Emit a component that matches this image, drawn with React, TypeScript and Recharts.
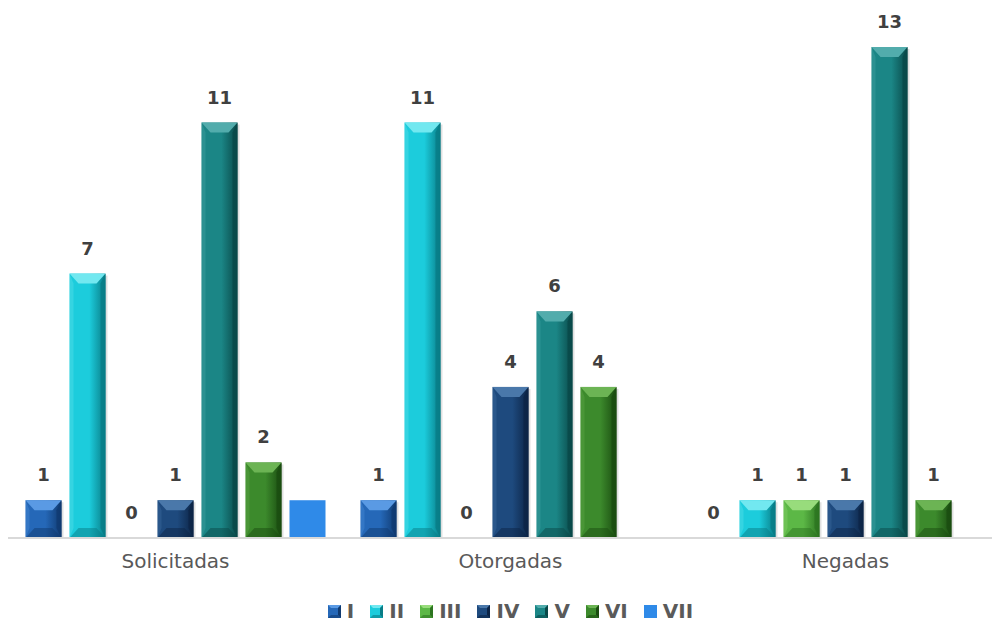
import React from "react";
import { BarChart, Bar, XAxis, YAxis, Legend, LabelList } from "recharts";

const categories = ["Solicitadas", "Otorgadas", "Negadas"];
const seriesNames = ["I", "II", "III", "IV", "V", "VI", "VII"];
const valuesI = [1, 1, 0];
const valuesII = [7, 11, 1];
const valuesIII = [0, 0, 1];
const valuesIV = [1, 4, 1];
const valuesV = [11, 6, 13];
const valuesVI = [2, 4, 1];
const valuesVII = [1, null, null];

const seriesValues = [valuesI, valuesII, valuesIII, valuesIV, valuesV, valuesVI, valuesVII];

// base / light / dark for the beveled look
const PALETTE = [
  { base: "#2568b8", light: "#5a9ae4", dark: "#103a70" },
  { base: "#1cccdc", light: "#72e8f0", dark: "#087c86" },
  { base: "#5cb846", light: "#98dc7c", dark: "#2c7420" },
  { base: "#1e4a7e", light: "#4a78aa", dark: "#0c2446" },
  { base: "#1b8686", light: "#52acac", dark: "#094848" },
  { base: "#3c8a2c", light: "#6cb454", dark: "#1a4c10" },
  { base: "#2f8ae8", light: "#2f8ae8", dark: "#2f8ae8" },
];

const data = categories.map((name, i) => {
  const row: Record<string, any> = { name };
  seriesNames.forEach((s, j) => {
    row[s] = seriesValues[j][i];
  });
  return row;
});

function makeShape(idx: number) {
  const c = PALETTE[idx];
  const flat = idx === 6;
  return (props: any) => {
    const { x, y, width, height } = props;
    if (!height || height <= 0) return null;
    if (flat) return <rect x={x} y={y} width={width} height={height} fill={c.base} />;
    const b = Math.min(10, height / 2);
    const s = Math.min(9, width / 4);
    return (
      <g>
        <rect x={x + 2} y={y + 2} width={width} height={height - 2} fill="#000" opacity={0.12} />
        <rect x={x} y={y} width={width} height={height} fill={`url(#face${idx})`} />
        <polygon
          points={`${x},${y + height} ${x + 4},${y + height - b} ${x + 4},${y + b} ${x},${y}`}
          fill={c.light}
          opacity={0.3}
        />
        <polygon
          points={`${x + width},${y} ${x + width - 5},${y + b} ${x + width - 5},${y + height - b} ${x + width},${y + height}`}
          fill={c.dark}
          opacity={0.8}
        />
        <polygon
          points={`${x},${y} ${x + width},${y} ${x + width - s},${y + b} ${x + s},${y + b}`}
          fill={c.light}
        />
        <polygon
          points={`${x},${y + height} ${x + width},${y + height} ${x + width - s},${y + height - b} ${x + s},${y + height - b}`}
          fill={c.dark}
          opacity={0.5}
        />
      </g>
    );
  };
}

function LegendIcon({ idx }: { idx: number }) {
  const c = PALETTE[idx];
  if (idx === 6) return <rect x={0} y={0} width={13} height={13} fill={c.base} />;
  return (
    <g>
      <rect x={0} y={0} width={13} height={13} fill={c.base} />
      <polygon points="0,0 13,0 10,3 3,3" fill={c.light} />
      <polygon points="13,0 13,13 10,10 10,3" fill={c.dark} />
      <polygon points="0,13 13,13 10,10 3,10" fill={c.dark} opacity={0.6} />
    </g>
  );
}

function LegendContent() {
  return (
    <div style={{ display: "flex", justifyContent: "center", alignItems: "center", gap: 16, paddingTop: 6 }}>
      {seriesNames.map((s, i) => (
        <div key={s} style={{ display: "flex", alignItems: "center", gap: 6 }}>
          <svg width={13} height={13}>
            <LegendIcon idx={i} />
          </svg>
          <span style={{ fontFamily: "DejaVu Sans", fontSize: 20, fontWeight: 700, color: "#5a5a5a" }}>{s}</span>
        </div>
      ))}
    </div>
  );
}

export default function App() {
  return (
    <div style={{ width: 992, height: 615, overflow: "hidden" }}>
      <BarChart
        width={1005}
        height={615}
        data={data}
        margin={{ top: 39, right: 0, bottom: 0, left: 0 }}
        barCategoryGap={17.5}
        barGap={8}
      >
        <defs>
          {PALETTE.map((c, i) => (
            <linearGradient key={i} id={`face${i}`} x1="0" y1="0" x2="1" y2="0">
              <stop offset="0%" stopColor={c.base} />
              <stop offset="55%" stopColor={c.base} />
              <stop offset="100%" stopColor={c.dark} />
            </linearGradient>
          ))}
        </defs>
        <XAxis
          dataKey="name"
          axisLine={{ stroke: "#d9d9d9", strokeWidth: 2 }}
          tickLine={false}
          tickMargin={10}
          height={55}
          tick={{ fill: "#595959", fontSize: 20, fontFamily: "DejaVu Sans" }}
        />
        <YAxis hide domain={[0, 13]} />
        <Legend verticalAlign="bottom" content={<LegendContent />} />
        {seriesNames.map((s, i) => (
          <Bar key={s} dataKey={s} shape={makeShape(i)} isAnimationActive={false}>
            {i !== 6 && (
              <LabelList
                dataKey={s}
                position="top"
                offset={19}
                style={{ fill: "#404040", fontSize: 18, fontWeight: 700, fontFamily: "DejaVu Sans" }}
              />
            )}
          </Bar>
        ))}
      </BarChart>
    </div>
  );
}
